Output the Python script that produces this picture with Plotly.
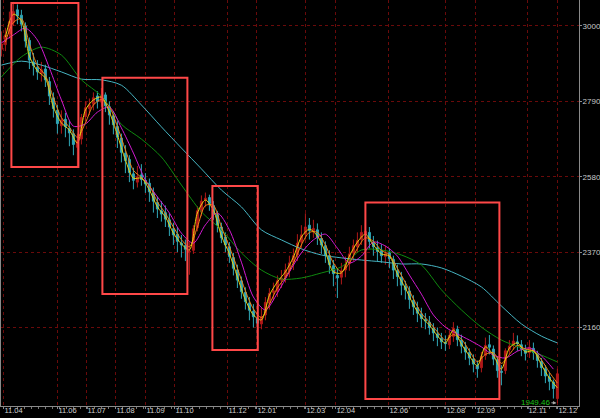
import plotly.graph_objects as go

# ---------------- data ----------------
opens = [2935,2948,2978,3010,3045,3030,3000,2960,2900,2885,
         2868,2880,2845,2800,2765,2722,2740,2715,2700,2662,
         2685,2748,2770,2782,2805,2788,2808,2775,2750,2720,
         2688,2645,2628,2588,2565,2585,2570,2562,2535,2508,
         2485,2480,2460,2435,2420,2395,2388,2370,2375,2438,
         2482,2515,2522,2500,2475,2440,2412,2385,2355,2320,
         2290,2258,2228,2205,2185,2170,2195,2228,2258,2260,
         2292,2300,2318,2342,2362,2398,2420,2445,2428,2432,
         2408,2388,2360,2332,2305,2300,2320,2338,2368,2385,
         2405,2420,2425,2398,2382,2375,2358,2368,2350,2318,
         2300,2275,2262,2235,2215,2198,2182,2175,2158,2142,
         2130,2118,2112,2135,2155,2125,2105,2090,2072,2055,
         2048,2082,2112,2100,2070,2038,2040,2098,2110,2120,
         2112,2098,2090,2102,2088,2065,2045,2022,2008,1962]

closes = [2950,2975,3012,3040,3028,3005,2958,2905,2890,2872,
          2878,2850,2805,2770,2728,2738,2720,2702,2670,2680,
          2745,2772,2780,2800,2790,2805,2778,2752,2725,2690,
          2648,2625,2592,2570,2580,2572,2560,2538,2512,2490,
          2476,2462,2440,2418,2400,2390,2378,2372,2435,2485,
          2512,2520,2505,2478,2445,2410,2390,2358,2325,2292,
          2260,2232,2208,2190,2172,2190,2230,2255,2262,2290,
          2298,2320,2340,2360,2395,2418,2440,2430,2436,2410,
          2390,2362,2335,2310,2298,2318,2335,2365,2388,2402,
          2425,2428,2400,2385,2372,2360,2365,2352,2320,2302,
          2278,2265,2238,2218,2200,2185,2178,2160,2145,2132,
          2120,2115,2138,2158,2126,2108,2092,2075,2058,2045,
          2080,2110,2105,2072,2040,2035,2095,2108,2122,2115,
          2100,2088,2105,2090,2068,2048,2025,2010,1990,2031]

highs = [2985,2995,3040,3067,3060,3045,3010,2968,2925,2905,
         2900,2892,2858,2815,2780,2765,2758,2735,2712,2700,
         2755,2790,2798,2815,2818,2827,2815,2790,2762,2735,
         2700,2668,2640,2605,2610,2615,2590,2575,2550,2525,
         2512,2500,2478,2452,2440,2418,2405,2398,2445,2498,
         2528,2536,2530,2512,2485,2452,2425,2398,2368,2335,
         2302,2272,2245,2225,2205,2215,2245,2270,2285,2305,
         2320,2338,2360,2380,2420,2445,2478,2465,2460,2450,
         2425,2400,2375,2348,2325,2340,2358,2385,2405,2425,
         2445,2453,2440,2415,2402,2392,2388,2380,2360,2335,
         2315,2290,2275,2250,2232,2215,2200,2192,2172,2160,
         2145,2138,2152,2175,2165,2140,2120,2102,2085,2068,
         2092,2132,2139,2110,2078,2055,2102,2125,2145,2138,
         2125,2112,2125,2118,2095,2075,2055,2035,2015,2045]

lows = [2915,2930,2965,3000,3005,2985,2940,2880,2862,2850,
        2845,2830,2780,2745,2700,2700,2690,2665,2640,2610,
        2670,2735,2752,2765,2770,2775,2760,2725,2698,2660,
        2620,2590,2565,2545,2550,2555,2535,2510,2480,2465,
        2455,2440,2415,2390,2370,2355,2345,2307,2365,2428,
        2470,2495,2485,2460,2425,2395,2370,2340,2305,2270,
        2240,2210,2180,2160,2132,2155,2180,2210,2235,2245,
        2270,2285,2300,2320,2345,2380,2405,2405,2410,2390,
        2365,2340,2310,2275,2242,2280,2300,2318,2345,2370,
        2390,2400,2380,2360,2345,2340,2335,2325,2295,2275,
        2250,2238,2212,2195,2175,2160,2155,2140,2122,2108,
        2100,2095,2100,2120,2108,2088,2070,2055,2035,2020,
        2035,2070,2085,2055,2020,1999,2030,2085,2098,2095,
        2080,2068,2075,2070,2048,2025,2005,1985,1962,1949.46]

# moving-average lines at every 2nd / 3rd / 5th bar
ma_yellow = [2969,3033,3014,2916,2875,2855,2774,2730,2710,2674,
             2766,2794,2802,2760,2696,2627,2576,2576,2543,2496,
             2468,2423,2393,2376,2479,2515,2487,2415,2365,2301,
             2237,2195,2181,2250,2287,2315,2356,2412,2434,2415,
             2370,2315,2312,2359,2398,2420,2390,2365,2359,2309,
             2270,2223,2189,2167,2137,2117,2153,2114,2081,2053,
             2106,2083,2044,2103,2117,2092,2095,2056,2019,1992]
ma_orange = [2955,3010,3020,2950,2890,2862,2800,2745,2718,2690,
             2730,2780,2795,2775,2720,2655,2598,2578,2555,2510,
             2478,2440,2405,2385,2440,2500,2500,2440,2385,2325,
             2262,2212,2188,2225,2270,2300,2340,2390,2425,2425,
             2390,2340,2315,2340,2380,2410,2400,2375,2362,2325,
             2285,2240,2200,2175,2148,2125,2140,2128,2095,2065,
             2085,2090,2060,2085,2110,2100,2095,2070,2035,2005]
ma_magenta = [2953,2975,2994,2961,2883,2794,2721,2727,2760,2774,
              2716,2646,2571,2524,2479,2423,2395,2446,2479,2432,
              2342,2245,2209,2256,2315,2368,2404,2420,2381,2340,
              2359,2398,2387,2359,2306,2253,2195,2161,2142,2125,
              2106,2083,2075,2094,2103,2081,2044]
ma_green = [2858,2914,2941,2919,2850,2805,2726,2685,2635,2557,
            2482,2432,2368,2320,2295,2298,2312,2329,2376,2376,
            2362,2334,2265,2209,2161,2125,2103,2083,2064]
ma_cyan = [2891,2902,2891,2872,2852,2850,2835,2780,2719,2660,
           2602,2543,2496,2432,2404,2379,2362,2354,2348,2343,
           2337,2337,2326,2303,2273,2220,2170,2136,2117]

month_labels = ["11.04", "11.06", "11.07", "11.08", "11.09", "11.10", "11.12",
                "12.01", "12.03", "12.04", "12.06", "12.08", "12.09", "12.11", "12.12"]
price_ticks = [2160, 2370, 2580, 2790, 3000]
low_label = 1949.46

# ---------------- layout helpers ----------------
n = len(closes)
bars = list(range(n))
x_yellow = list(range(1, n, 2))
x_magenta = list(range(0, n, 3))
x_long = list(range(0, n, 5)) + [n - 1]
month_pos = [0.5, 14, 21.25, 28.5, 36, 43.25, 56.5, 63.75, 76, 83.5,
             96.75, 111, 118.5, 131.5, 139]
# highlight boxes: (bar from, bar to, price top, price bottom)
boxes = [(2.5, 19.25, 3064, 2607),
         (25.25, 46.5, 2856, 2253),
         (52.75, 64.1, 2554, 2097),
         (91.0, 124.5, 2508, 1961)]

fig = go.Figure()
fig.add_trace(go.Candlestick(
    x=bars, open=opens, high=highs, low=lows, close=closes,
    increasing=dict(line=dict(color="#b01818", width=1), fillcolor="#b01818"),
    decreasing=dict(line=dict(color="#30a8b8", width=1), fillcolor="#30a8b8"),
    whiskerwidth=0, hoverinfo="skip"))

def add_line(xs, ys, color, shape="spline"):
    fig.add_trace(go.Scatter(x=xs, y=ys, mode="lines", hoverinfo="skip",
                             line=dict(color=color, width=1, shape=shape, smoothing=0.8)))

add_line(x_long, ma_cyan, "#46b4c2")
add_line(x_long, ma_green, "#0f8a0f")
add_line(x_magenta, ma_magenta, "#d21ad2")
add_line(x_yellow, ma_orange, "#f08418")
add_line(x_yellow, ma_yellow, "#e8d010")

for x0, x1, y0, y1 in boxes:
    fig.add_shape(type="rect", xref="x", yref="y", x0=x0, x1=x1, y0=y0, y1=y1,
                  line=dict(color="#ff4848", width=2), fillcolor="rgba(0,0,0,0)",
                  layer="above")

fig.add_annotation(x=n - 1, y=low_label, text=f"{low_label:.2f}",
                   font=dict(color="#18c018", size=8, family="Liberation Sans"),
                   showarrow=True, ax=-22, ay=-1, arrowcolor="#a8a8a8",
                   arrowhead=2, arrowsize=0.7, arrowwidth=1, standoff=1)

grid = "#6a0a0a"
axis_col = "#8a8a8a"
fig.update_layout(
    width=600, height=418,
    margin=dict(l=1, r=21, t=0, b=12, pad=0),
    paper_bgcolor="black", plot_bgcolor="black",
    showlegend=False,
    font=dict(family="Liberation Sans", size=8, color="#c8c8c8"),
    xaxis=dict(range=[-0.1, 144.4], rangeslider=dict(visible=False),
               tickmode="array", tickvals=month_pos, ticktext=month_labels,
               ticklabelposition="outside right", ticklabelstandoff=-3,
               tickfont=dict(size=7.5, color="#d0d0d0"),
               showgrid=True, gridcolor=grid, griddash="dot", gridwidth=1,
               zeroline=False, showline=True, linecolor=axis_col, linewidth=1,
               ticks="outside", ticklen=2, tickcolor=axis_col,
               minor=dict(tickmode="linear", tick0=0.5, dtick=1.75, ticks="outside",
                          ticklen=2, tickcolor="#777777", showgrid=False),
               automargin=False, fixedrange=True),
    yaxis=dict(side="right", range=[1941.3, 3072.4],
               tickmode="array", tickvals=price_ticks, ticklabelstandoff=-1,
               showgrid=True, gridcolor=grid, griddash="dot", gridwidth=1,
               zeroline=False, showline=True, mirror=True, linecolor=axis_col,
               linewidth=1, ticks="outside", ticklen=2, tickcolor=axis_col,
               automargin=False, fixedrange=True),
)

fig.write_html("out.html",
               config={"displayModeBar": False, "staticPlot": True},
               post_script="document.body.style.margin='0';"
                           "document.body.style.background='black';")
